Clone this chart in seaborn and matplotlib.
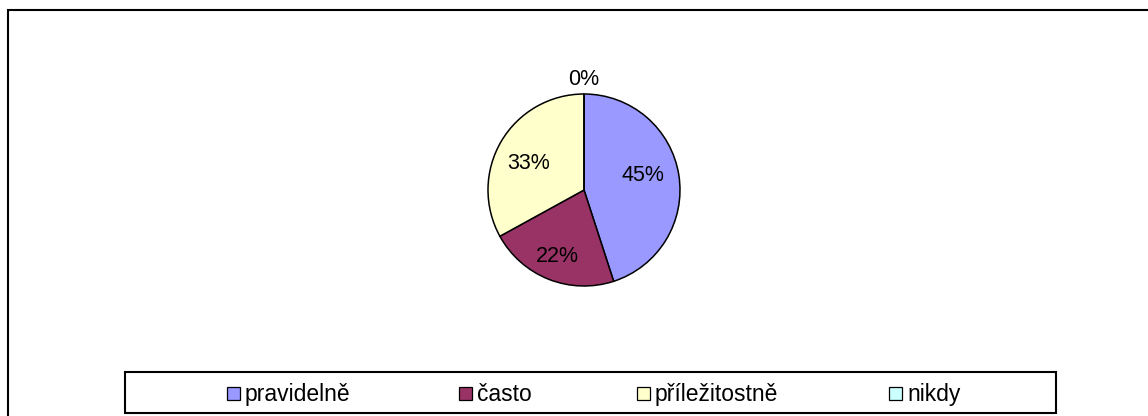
import matplotlib
matplotlib.use("Agg")
import matplotlib.pyplot as plt
from matplotlib.patches import Rectangle
import numpy as np
import seaborn as sns

# ---- data ----
categories = ["pravidelně", "často", "příležitostně", "nikdy"]
values = [45, 22, 33, 0]
colors = ["#9999FF", "#993366", "#FFFFCC", "#CCFFFF"]

sns.set_theme(style="white")
plt.rcParams["font.family"] = ["Liberation Sans", "DejaVu Sans"]

W, H = 1148, 416
fig = plt.figure(figsize=(W / 100, H / 100), dpi=100)
fig.patch.set_facecolor("white")


def fx(px):
    return px / W


def fy(py):
    return 1 - py / H


# outer chart border (extends past the image on right/bottom)
fig.add_artist(Rectangle((fx(8), fy(430)), fx(1160) - fx(8), fy(10) - fy(430),
                         transform=fig.transFigure, fill=False, edgecolor="black",
                         linewidth=1.5, clip_on=False))

# pie axes: center (584,190), radius 96 px
cx, cy, r = 584, 190, 96
ax = fig.add_axes([fx(cx - r), fy(cy + r), 2 * r / W, 2 * r / H])
wedges, texts, autotexts = ax.pie(
    values, colors=colors, startangle=90, counterclock=False,
    autopct=lambda p: f"{p:.0f}%", pctdistance=0.65,
    wedgeprops=dict(edgecolor="black", linewidth=1.1),
    textprops=dict(fontsize=15.5, color="black"))
ax.set_xlim(-1, 1)
ax.set_ylim(-1, 1)
ax.set_aspect("equal")
ax.axis("off")

# reposition percentage labels near their wedge mid-angles
dists = [0.63, 0.74, 0.64, 1.15]
ang_shift = [4.5, 0.0, 5.5, 0.0]
for w, t, d, s in zip(wedges, autotexts, dists, ang_shift):
    ang = np.deg2rad((w.theta1 + w.theta2) / 2 + s)
    t.set_position((d * np.cos(ang), d * np.sin(ang)))
    t.set_ha("center")
    t.set_va("center")
    t.set_clip_on(False)

# legend box
lx0, ly0, lx1, ly1 = 125, 372, 1056, 413
fig.add_artist(Rectangle((fx(lx0), fy(ly1)), fx(lx1) - fx(lx0), fy(ly0) - fy(ly1),
                         transform=fig.transFigure, fill=True, facecolor="white",
                         edgecolor="black", linewidth=1.5))
sq_x = [227, 459, 637, 889]
sq = 13
sq_top = 387
for x, lab, col in zip(sq_x, categories, colors):
    fig.add_artist(Rectangle((fx(x), fy(sq_top + sq)), sq / W, sq / H,
                             transform=fig.transFigure, facecolor=col,
                             edgecolor="black", linewidth=0.9))
    fig.text(fx(x + sq + 5), fy(sq_top + sq / 2 + 1), lab, fontsize=16.5,
             ha="left", va="center", color="black")

fig.savefig("out.png", dpi=100)
